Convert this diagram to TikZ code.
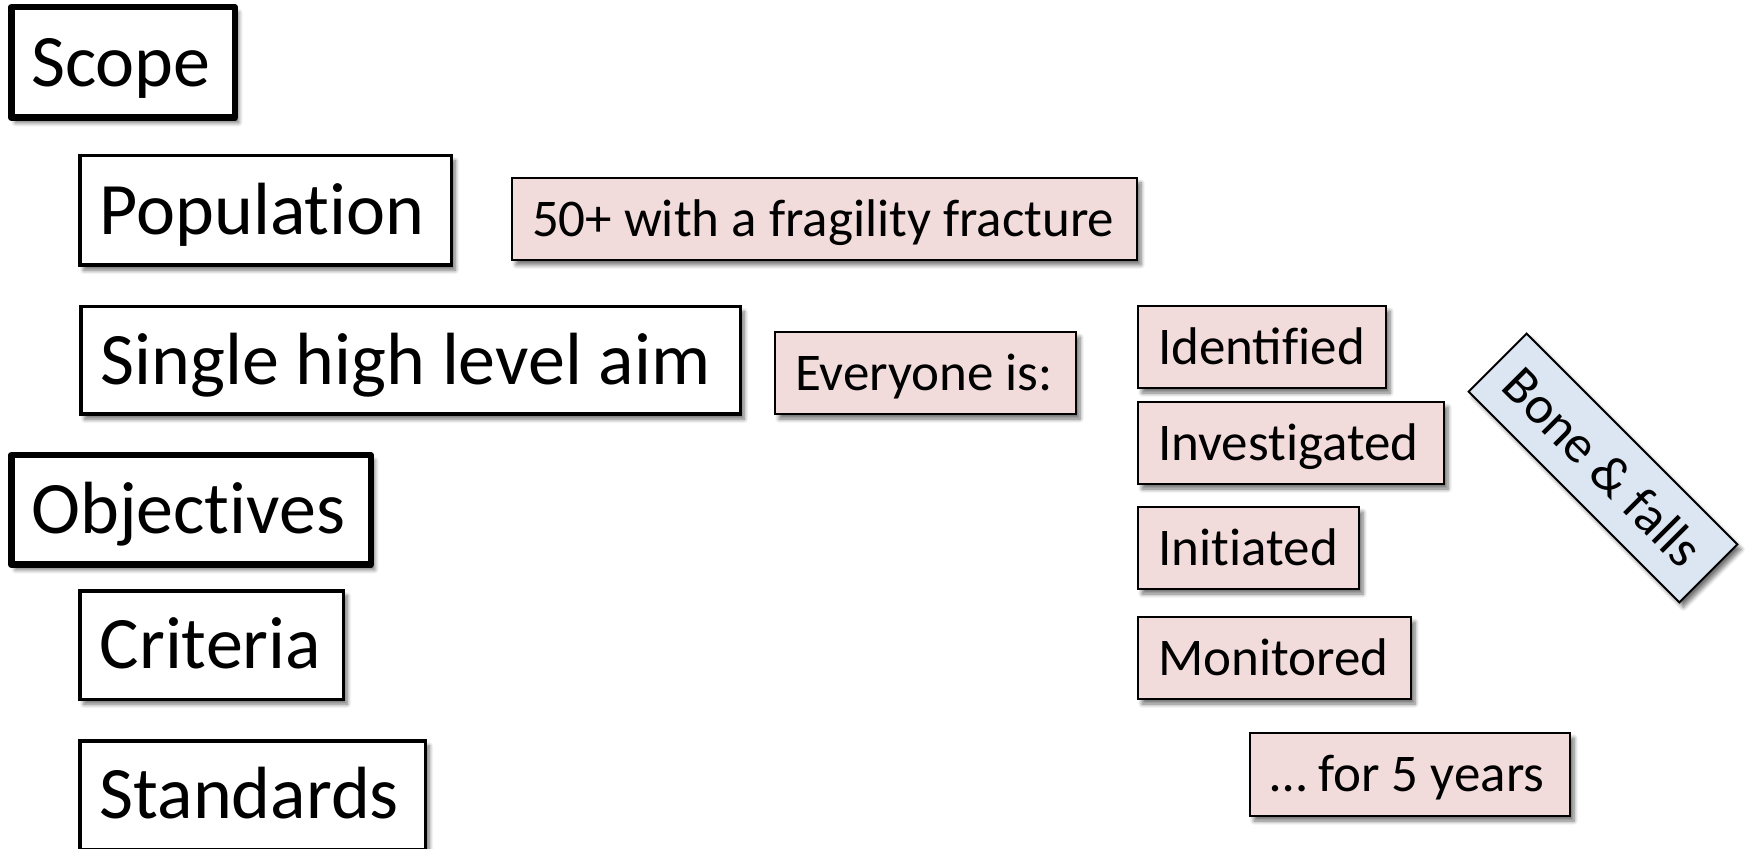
\documentclass[tikz,border=0pt]{standalone}
\usepackage{fontspec}
\setmainfont{Carlito}
\newcommand\wsp{\hspace{0.226em}}
\newcommand\nolig{\kern0pt{}}
\usetikzlibrary{shadows,shadows.blur}
\definecolor{pinkfill}{RGB}{242,220,219}
\definecolor{bluefill}{RGB}{220,230,242}
\tikzset{
  basebox/.style={draw=black, rectangle, align=left, inner xsep=10pt, inner ysep=0pt,
    blur shadow={shadow xshift=2pt, shadow yshift=-2.5pt, shadow blur radius=2pt, shadow blur steps=6, shadow opacity=55}},
  bigtext/.style={font=\fontsize{37}{44}\selectfont, text height=23.8pt, text depth=0pt},
  pinktext/.style={font=\fontsize{26.5}{32}\selectfont, text height=17.1pt, text depth=0pt},
  headbox/.style={basebox, bigtext, line width=3.25pt, line join=round, fill=white},
  itembox/.style={basebox, bigtext, line width=1.75pt, fill=white},
  notebox/.style={basebox, pinktext, line width=1pt, fill=pinkfill},
  tagbox/.style={basebox, pinktext, line width=1pt, fill=bluefill},
}
\begin{document}
\begin{tikzpicture}[x=0.5pt,y=-0.5pt]
\useasboundingbox (0,0) rectangle (1750,849);
\node[headbox, minimum height=55.25pt, text width=91.75pt] (scope) at (123,62.5) {\mbox{Scope}};
\node[itembox, minimum height=54.75pt, text width=165.75pt] (population) at (265.5,210.5) {\mbox{Populat\nolig ion}};
\node[itembox, minimum height=53.75pt, text width=309.75pt] (aim) at (410.5,360.5) {\mbox{Single\wsp high\wsp level\wsp aim}};
\node[headbox, minimum height=54.75pt, text width=159.75pt] (objectives) at (191,510) {\mbox{Object\nolig ives}};
\node[itembox, minimum height=54.25pt, text width=111.75pt] (criteria) at (211.5,645) {\mbox{Criteria}};
\node[itembox, minimum height=54.25pt, text width=152.75pt] (standards) at (252.5,795) {\mbox{Standards}};
\node[notebox, minimum height=41pt, text width=292.5pt] (fracture) at (824.5,219) {\mbox{50+\wsp with\wsp a\wsp fragility\wsp fracture}};
\node[notebox, minimum height=41pt, text width=130.5pt] (everyone) at (925.5,373) {\mbox{Everyone\wsp is:}};
\node[notebox, minimum height=41pt, text width=104pt] (identified) at (1262,347) {\mbox{Identif\nolig ied}};
\node[notebox, minimum height=41pt, text width=133pt] (investigated) at (1291,443) {\mbox{Invest\nolig igated}};
\node[notebox, minimum height=41pt, text width=90.5pt] (initiated) at (1248.5,548) {\mbox{Init\nolig iat\nolig ed}};
\node[notebox, minimum height=41pt, text width=116.5pt] (monitored) at (1274.5,658) {\mbox{Monitored}};
\node[notebox, minimum height=41.5pt, text width=140pt] (years) at (1410,774.5) {\mbox{…\wsp for\wsp 5\wsp years}};
\node[tagbox, minimum height=41pt, text width=129pt, rotate=-45] (bone) at (1603,468) {\mbox{Bone\wsp\&\wsp falls}};
\end{tikzpicture}
\end{document}
